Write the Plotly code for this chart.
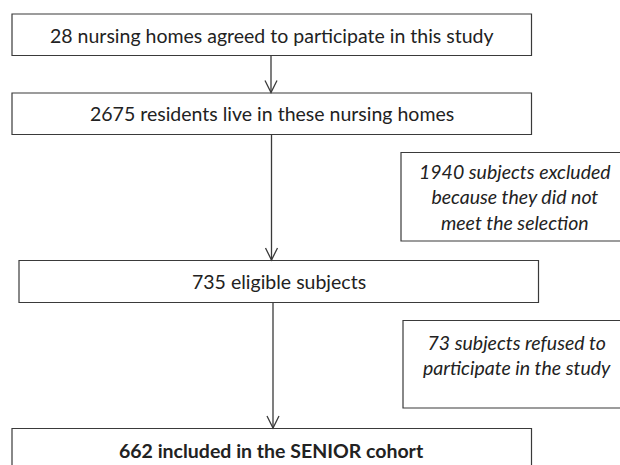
import plotly.graph_objects as go

# Flow-chart content
main_labels = [
    "28 nursing homes agreed to participate in this study",
    "2675 residents live in these nursing homes",
    "735 eligible subjects",
    "<b>662 included in the SENIOR cohort</b>",
]
side_labels = [
    "<i>1940 subjects excluded<br>because they did not<br>meet the selection</i>",
    "<i>73 subjects refused to<br>participate in the study</i>",
]

# Geometry (page pixels, y downward)
main_boxes = [  # x0, y0, x1, y1
    (12, 14, 531.5, 55.5),
    (12, 93, 531.5, 134.5),
    (19, 260.5, 538.5, 302.5),
    (12, 428.5, 531.5, 480),
]
main_text_y = [35, 113.5, 281.5, 450]
side_boxes = [
    (401, 152.5, 628, 241),
    (403, 320.5, 630, 408),
]
side_text_y = [197, 355]
arrows = [  # x, y_start, y_end (tip)
    (271, 55.5, 92.5),
    (271.5, 134.5, 260),
    (273, 302.5, 428),
]

W, H = 620, 465
LINE = "#3a3a3a"
TEXT = "#222222"
FONT = "Lato"
FS = 19.5

fig = go.Figure()
shapes = []
annotations = []

for (x0, y0, x1, y1), lab, ty in zip(main_boxes, main_labels, main_text_y):
    shapes.append(dict(type="rect", x0=x0, y0=y0, x1=x1, y1=y1,
                       line=dict(color=LINE, width=1.2), fillcolor="white"))
    annotations.append(dict(x=(x0 + x1) / 2, y=ty, text=lab, showarrow=False,
                            xanchor="center", yanchor="middle",
                            font=dict(family=FONT, size=FS, color=TEXT)))

for (x0, y0, x1, y1), lab, ty in zip(side_boxes, side_labels, side_text_y):
    shapes.append(dict(type="rect", x0=x0, y0=y0, x1=x1, y1=y1,
                       line=dict(color=LINE, width=1.2), fillcolor="white"))
    annotations.append(dict(x=(x0 + x1) / 2, y=ty, text=lab, showarrow=False,
                            xanchor="center", yanchor="middle",
                            font=dict(family=FONT, size=FS, color=TEXT)))

for x, ys, ye in arrows:
    shapes.append(dict(type="line", x0=x, y0=ys, x1=x, y1=ye,
                       line=dict(color=LINE, width=1.3)))
    shapes.append(dict(type="path",
                       path=f"M {x-6} {ye-12} L {x} {ye} L {x+6} {ye-12}",
                       line=dict(color=LINE, width=1.3)))

fig.update_layout(
    width=W, height=H,
    margin=dict(l=0, r=0, t=0, b=0),
    paper_bgcolor="white", plot_bgcolor="white",
    xaxis=dict(range=[0, W], visible=False, fixedrange=True),
    yaxis=dict(range=[H, 0], visible=False, fixedrange=True),
    shapes=shapes, annotations=annotations, showlegend=False,
)
fig.write_html(
    "out.html",
    config={"displayModeBar": False},
    post_script="document.body.style.margin='0';document.body.style.overflow='hidden';",
)
